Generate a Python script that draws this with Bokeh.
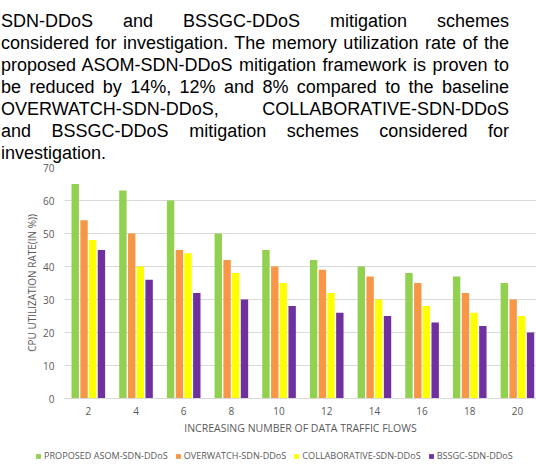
from bokeh.plotting import figure
from bokeh.models import ColumnDataSource, Range1d, FixedTicker, Legend, LegendItem, Div
from bokeh.transform import dodge
from bokeh.layouts import column
from bokeh.embed import file_html
from bokeh.resources import INLINE

flows = [2, 4, 6, 8, 10, 12, 14, 16, 18, 20]
proposed = [65, 63, 60, 50, 45, 42, 40, 38, 37, 35]
overwatch = [54, 50, 45, 42, 40, 39, 37, 35, 32, 30]
collaborative = [48, 40, 44, 38, 35, 32, 30, 28, 26, 25]
bssgc = [45, 36, 32, 30, 28, 26, 25, 23, 22, 20]

series_names = ["PROPOSED ASOM-SDN-DDoS", "OVERWATCH-SDN-DDoS",
                "COLLABORATIVE-SDN-DDoS", "BSSGC-SDN-DDoS"]
colors = ["#92D050", "#F79646", "#FFFF00", "#7030A0"]

para_lines = [
    "SDN-DDoS and BSSGC-DDoS mitigation schemes",
    "considered for investigation. The memory utilization rate of the",
    "proposed ASOM-SDN-DDoS mitigation framework is proven to",
    "be reduced by 14%, 12% and 8% compared to the baseline",
    "OVERWATCH-SDN-DDoS, COLLABORATIVE-SDN-DDoS",
    "and BSSGC-DDoS mitigation schemes considered for",
    "investigation.",
]

line_html = []
for i, t in enumerate(para_lines):
    last = "left" if i == len(para_lines) - 1 else "justify"
    line_html.append(
        f'<div style="text-align:justify;text-align-last:{last};">{t}</div>')
html = ('<div style="font-family:\'Liberation Sans\',Arial,sans-serif;font-size:18px;'
        'line-height:22px;color:#000;margin-left:1px;width:508px;padding-top:10px;">'
        + "".join(line_html) + "</div>")
div = Div(text=html, width=536, height=158, styles={"margin": "0", "padding": "0"})

src = ColumnDataSource(dict(x=flows, a=proposed, b=overwatch, c=collaborative, d=bssgc))

p = figure(width=536, height=290, output_backend="svg", toolbar_location=None,
           x_range=Range1d(1, 20.8), y_range=Range1d(0, 70),
           min_border_left=64, min_border_right=0, min_border_top=9, min_border_bottom=50)
p.outline_line_color = None
p.background_fill_alpha = 0
p.border_fill_alpha = 0

offsets = [-0.55, -0.18, 0.18, 0.55]
renderers = []
for key, off, col in zip(["a", "b", "c", "d"], offsets, colors):
    r = p.vbar(x=dodge("x", off), top=key, width=0.31, source=src,
               fill_color=col, line_color=None)
    renderers.append(r)

grey = "#595959"
p.xaxis.ticker = FixedTicker(ticks=flows)
p.yaxis.ticker = FixedTicker(ticks=list(range(0, 71, 10)))
p.xgrid.grid_line_color = None
p.ygrid.grid_line_color = "#D9D9D9"
p.ygrid.grid_line_width = 1

for ax in (p.xaxis, p.yaxis):
    ax.major_tick_line_color = None
    ax.minor_tick_line_color = None
    ax.major_tick_out = 0
    ax.major_tick_in = 0
    ax.major_label_text_color = grey
    ax.major_label_text_font = "Open Sans"
    ax.major_label_text_font_size = "10px"
    ax.axis_label_text_color = grey
    ax.axis_label_text_font = "Open Sans"
    ax.axis_label_text_font_style = "normal"

p.yaxis.axis_label_text_font_size = "10px"
p.xaxis.axis_label_text_font_size = "10.5px"
p.yaxis.axis_line_color = None
p.xaxis.axis_line_color = "#D9D9D9"
p.yaxis.axis_label = "CPU UTILIZATION RATE(IN %))"
p.xaxis.axis_label = "INCREASING NUMBER OF DATA TRAFFIC FLOWS"
p.yaxis.major_label_standoff = 10
p.xaxis.major_label_standoff = 8
p.yaxis.axis_label_standoff = 1
p.xaxis.axis_label_standoff = 3

# legend strip below the chart, with its own full-width frame
lg = figure(width=536, height=16, output_backend="svg", toolbar_location=None,
            x_range=Range1d(0, 1), y_range=Range1d(0, 1),
            min_border=0, x_axis_type=None, y_axis_type=None)
if hasattr(lg, "frame_align"):
    lg.frame_align = False
if hasattr(p, "frame_align"):
    p.frame_align = False
lg.outline_line_color = None
lg.background_fill_alpha = 0
lg.border_fill_alpha = 0
lg.xgrid.visible = False
lg.ygrid.visible = False
lg_rends = []
for col in colors:
    lg_rends.append(lg.vbar(x=[-5], top=[0], width=0.1, fill_color=col, line_color=None))

legend = Legend(items=[LegendItem(label=n, renderers=[r]) for n, r in zip(series_names, lg_rends)],
                orientation="horizontal", location=(35, 2))
legend.label_text_font = "Open Sans"
legend.label_text_font_size = "9.1px"
legend.label_text_color = grey
legend.glyph_width = 6
legend.glyph_height = 6
legend.label_standoff = 3
legend.spacing = 7
legend.padding = 0
legend.margin = 0
legend.border_line_color = None
legend.background_fill_alpha = 0
lg.add_layout(legend, "center")

layout = column(div, p, lg, spacing=0)
open("out.html", "w").write(file_html(layout, INLINE))
